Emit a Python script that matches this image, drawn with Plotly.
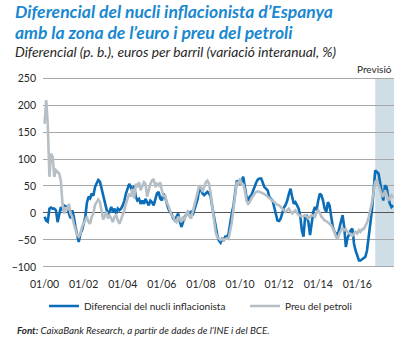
import plotly.graph_objects as go
import pandas as pd

# ---------------- data ----------------
start_month = "2000-01-01"
core_diff = [
    -7, -14, -16, 8, 10, 8, 8, 5, -17, -3, 11, 5,          # 2000
    14, 12, 11, -1, -10, 5, -7, -26, -41, -54, -38, -32,   # 2001
    -20, -7, 18, 30, 27, 36, 32, 48, 55, 61, 58, 45,       # 2002
    30, 15, 8, -4, 2, 11, 2, 8, -1, 8, 5, 8,               # 2003
    14, 23, 36, 45, 54, 48, 39, 51, 30, 23, 26, 17,        # 2004
    23, 17, 26, 20, 14, 23, 20, 14, 26, 36, 39, 27,        # 2005
    23, 36, 30, 17, 8, 2, -1, -10, -14, -7, -1, -15,       # 2006
    -26, -17, -7, -4, 2, -1, 2, -4, 5, 17, 26, 45,         # 2007
    42, 36, 33, 36, 39, 36, 30, 11, -7, -26, -41, -51,     # 2008
    -55, -48, -50, -44, -45, -38, -17, 0, 14, 42, 60, 57,  # 2009
    54, 60, 67, 48, 30, 23, 30, 33, 42, 51, 57, 62,        # 2010
    64, 64, 54, 48, 45, 42, 30, 27, 23, 11, -4, -14,       # 2011
    -15, -10, 0, 10, 15, 23, 35, 45, 30, 17, 20, 14,       # 2012
    8, -7, -32, -44, -7, -4, -17, -41, -14, 2, 11, 5,      # 2013
    23, 36, 33, 23, 8, 2, 20, 14, -7, -26, -35, -38,       # 2014
    -41, -28, -14, -4, -26, -63, -47, -38, -32, -29, -57, -70,  # 2015
    -78, -88, -88, -86, -84, -81, -69, -47, -26, 5, 42, 79,     # 2016
    76, 73, 57, 39, 23, 51, 48, 30, 17, 11, 14,                 # 2017
]
oil_price = [
    165, 209, 165, 67, 110, 104, 67, 79, 76, 73, 60, 17,   # 2000
    -1, 11, 5, 17, -1, -7, -20, -32, -41, -44, -38, -26,   # 2001
    -20, -14, -7, -17, -20, -7, -1, 15, 20, 25, 20, 0,     # 2002
    -12, -5, 2, -10, -5, -10, -17, -7, -4, -14, -20, -12,  # 2003
    -4, 5, 17, 27, 36, 30, 45, 27, 54, 48, 57, 42,         # 2004
    51, 57, 54, 30, 42, 54, 60, 63, 48, 54, 51, 57,        # 2005
    42, 30, 33, 20, 14, 5, -4, -7, -14, -17, -7, -12,      # 2006
    -17, -7, -14, -1, 2, -7, -10, 2, 14, 30, 42, 51,       # 2007
    48, 39, 48, 57, 60, 54, 36, 8, -14, -35, -45, -48,     # 2008
    -50, -48, -50, -48, -47, -48, -32, -17, 8, 36, 57, 54, # 2009
    64, 51, 54, 42, 23, 17, 20, 27, 33, 36, 39, 40,        # 2010
    39, 38, 36, 35, 33, 30, 27, 25, 23, 20, 17, 15,        # 2011
    14, 10, 8, 5, 2, 5, 8, 3, -1, 2, 5, 0,                 # 2012
    -4, -5, -7, -6, -4, -7, -10, -7, -4, -5, -7, 0,        # 2013
    5, 0, -7, -10, -14, -15, -17, -20, -23, -29, -35, -45, # 2014
    -47, -38, -32, -28, -32, -30, -35, -38, -40, -42, -38, -35,  # 2015
    -38, -32, -35, -30, -30, -25, -18, -8, 5, 20, 40, 58,        # 2016
    60, 50, 42, 35, 30, 42, 35, 23, 28, 33, 28,                  # 2017
]
series_names = ["Diferencial del nucli inflacionista", "Preu del petroli"]
tick_years = [2000, 2002, 2004, 2006, 2008, 2010, 2012, 2014, 2016]
tick_labels = ["01/%02d" % (y % 100) for y in tick_years]
y_ticks = [-100, -50, 0, 50, 100, 150, 200, 250]
forecast_start = "2016-12-01"
x_range = ["1999-12-03", "2017-11-17"]
y_range = [-102, 252]

title_1 = "Diferencial del nucli inflacionista d\u2019Espanya"
title_2 = "amb la zona de l\u2019euro i preu del petroli"
subtitle = "Diferencial (p. b.), euros per barril (variaci\u00f3 interanual, %)"
forecast_label = "Previsi\u00f3"
source = "<b>Font:</b> CaixaBank Research, a partir de dades de l\u2019INE i del BCE."

# ---------------- styling ----------------
W, H = 403, 338
L, R, T, B = 43, 394, 77, 268
BLUE = "#0b6db7"
GREY = "#b5bfc5"
TITLE_BLUE = "#1a88d0"
TXT = "#262626"
FONT = "Lato"

def px_x(x):
    return (x - L) / (R - L)

def px_y(y):
    return (B - y) / (B - T)

dates = pd.date_range(start_month, periods=len(core_diff), freq="MS")
tick_vals = [pd.Timestamp(year=y, month=1, day=1) for y in tick_years]

fig = go.Figure()
fig.add_trace(go.Scatter(x=dates, y=core_diff, mode="lines", name=series_names[0],
                         line=dict(color=BLUE, width=2.6), legend="legend"))
fig.add_trace(go.Scatter(x=dates[:len(oil_price)], y=oil_price, mode="lines", name=series_names[1],
                         line=dict(color=GREY, width=2.6), legend="legend2"))

fig.add_shape(type="rect", xref="x", yref="y", x0=forecast_start, x1=x_range[1],
              y0=y_ticks[0], y1=y_ticks[-1], fillcolor="#cfdde7", line_width=0, layer="below")

zero_pos = (0 - y_range[0]) / (y_range[1] - y_range[0])

fig.update_layout(
    width=W, height=H,
    margin=dict(l=L, r=W - R, t=T, b=H - B),
    paper_bgcolor="white", plot_bgcolor="white",
    font=dict(family=FONT, color=TXT, size=10.5),
    xaxis=dict(range=x_range, tickvals=tick_vals, ticktext=tick_labels,
               showgrid=False, zeroline=False, showline=False, ticks="",
               ticklabelstandoff=8, tickfont=dict(size=10.5, color=TXT)),
    xaxis2=dict(matches="x", overlaying="x", anchor="free", position=zero_pos,
                tickvals=tick_vals, showticklabels=False, showgrid=False, zeroline=False,
                showline=False, ticks="inside", ticklen=3, tickwidth=1, tickcolor="#444"),
    yaxis=dict(range=y_range, tickvals=y_ticks, showgrid=True, gridcolor="#a8a8a8", gridwidth=1,
               zeroline=True, zerolinecolor="#555555", zerolinewidth=1.2,
               showline=False, ticks="", ticklabelstandoff=6,
               tickfont=dict(size=10.5, color=TXT)),
    legend=dict(orientation="h", x=px_x(44), y=px_y(306), xanchor="left", yanchor="middle",
                font=dict(size=10, color=TXT), bgcolor="rgba(0,0,0,0)"),
    legend2=dict(orientation="h", x=px_x(245), y=px_y(306), xanchor="left", yanchor="middle",
                 font=dict(size=10, color=TXT), bgcolor="rgba(0,0,0,0)"),
    showlegend=True,
)

ann = [
    dict(text="<b><i>%s</i></b>" % title_1, x=px_x(13), y=px_y(11), size=17.5, color=TITLE_BLUE),
    dict(text="<b><i>%s</i></b>" % title_2, x=px_x(13), y=px_y(32), size=17.5, color=TITLE_BLUE),
    dict(text="<i>%s</i>" % subtitle, x=px_x(13), y=px_y(52), size=13.8, color=TXT),
    dict(text="<i>%s</i>" % source, x=px_x(15), y=px_y(330), size=9.8, color=TXT),
]
for a in ann:
    fig.add_annotation(text=a["text"], xref="paper", yref="paper", x=a["x"], y=a["y"],
                       xanchor="left", yanchor="middle", showarrow=False,
                       font=dict(family=FONT, size=a["size"], color=a["color"]))
fig.add_annotation(text=forecast_label, xref="paper", yref="paper", x=px_x(394), y=px_y(69),
                   xanchor="right", yanchor="middle", showarrow=False,
                   font=dict(family=FONT, size=10, color=TXT))

fig.write_html("out.html")
